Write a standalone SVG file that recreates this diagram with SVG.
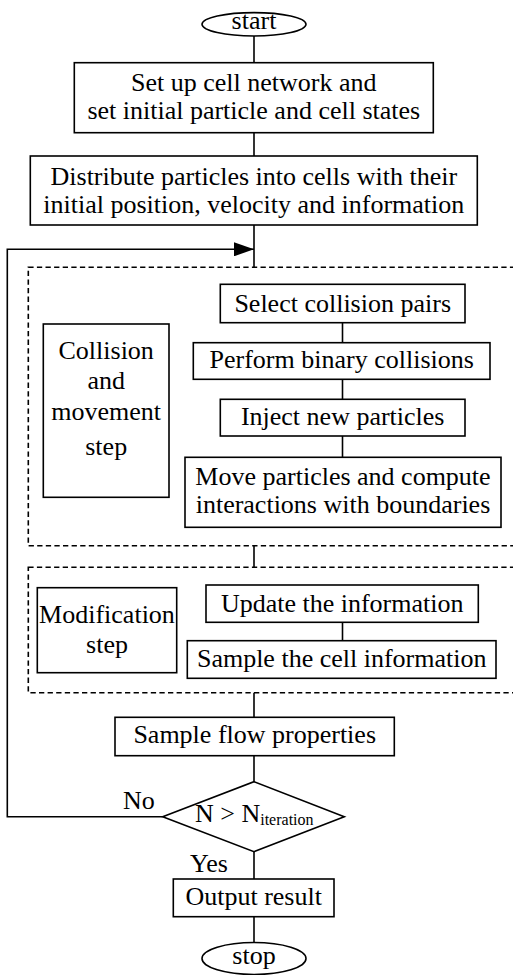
<svg xmlns="http://www.w3.org/2000/svg" width="513" height="975" viewBox="0 0 513 975" font-family="'Liberation Serif', 'Times New Roman', serif" font-size="26">
<style>
.b{fill:#fff;stroke:#000;stroke-width:1.6}
.d{fill:none;stroke:#000;stroke-width:1.6;stroke-dasharray:5.3 3.3}
.c{fill:none;stroke:#000;stroke-width:1.6}
.t{font-family:'Liberation Serif','Times New Roman',serif;font-size:26px;fill:#000}
.m{text-anchor:middle}
</style>
<defs>
<marker id="ah" markerWidth="20" markerHeight="14" refX="20" refY="7" orient="auto" markerUnits="userSpaceOnUse">
<path d="M0,0 L20,7 L0,14 Z" fill="#000"/>
</marker>
</defs>
<g id="connectors">
<line class="c" x1="254" y1="36" x2="254" y2="62.7"/>
<line class="c" x1="254" y1="132.7" x2="254" y2="156"/>
<line class="c" x1="254" y1="225" x2="254" y2="267.3"/>
<line class="c" x1="342.5" y1="322.7" x2="342.5" y2="342.7"/>
<line class="c" x1="342.5" y1="379.3" x2="342.5" y2="399.3"/>
<line class="c" x1="342.5" y1="436" x2="342.5" y2="457.3"/>
<line class="c" x1="254" y1="545.7" x2="254" y2="567.3"/>
<line class="c" x1="342.5" y1="622.3" x2="342.5" y2="640.7"/>
<line class="c" x1="254" y1="692.7" x2="254" y2="717.3"/>
<line class="c" x1="254" y1="755.7" x2="254" y2="781.7"/>
<line class="c" x1="254" y1="851.7" x2="254" y2="879"/>
<line class="c" x1="254" y1="916.7" x2="254" y2="942.3"/>
<polyline class="c" points="162.7,816.7 7.3,816.7 7.3,249.3 254,249.3" marker-end="url(#ah)"/>
</g>
<g id="group-collision">
<rect class="d" x="28.3" y="267.3" width="500" height="278.4"/>
</g>
<g id="group-modification">
<rect class="d" x="28.3" y="567.3" width="500" height="125.4"/>
</g>
<g id="start">
<ellipse class="b" cx="254" cy="24.3" rx="52" ry="11.7"/>
<text class="t m" x="254" y="28.5">start</text>
</g>
<g id="setup">
<rect class="b" x="74.3" y="62.7" width="359" height="70"/>
<text class="t m" x="253.8" y="90.7">Set up cell network and</text>
<text class="t m" x="253.8" y="119.3">set initial particle and cell states</text>
</g>
<g id="distribute">
<rect class="b" x="30.3" y="156" width="447" height="69"/>
<text class="t m" x="253.8" y="185">Distribute particles into cells with their</text>
<text class="t m" x="253.8" y="213">initial position, velocity and information</text>
</g>
<g id="collision-label">
<rect class="b" x="43.3" y="324" width="125.7" height="173.3"/>
<text class="t m" x="106.2" y="359">Collision</text>
<text class="t m" x="106.2" y="389.3">and</text>
<text class="t m" x="106.2" y="420">movement</text>
<text class="t m" x="106.2" y="455">step</text>
</g>
<g id="select">
<rect class="b" x="220.3" y="284.3" width="244.7" height="38.4"/>
<text class="t m" x="342.7" y="311.7">Select collision pairs</text>
</g>
<g id="perform">
<rect class="b" x="193.3" y="342.7" width="296.7" height="36.6"/>
<text class="t m" x="341.7" y="368.3">Perform binary collisions</text>
</g>
<g id="inject">
<rect class="b" x="220.3" y="399.3" width="244.7" height="36.7"/>
<text class="t m" x="342.7" y="425">Inject new particles</text>
</g>
<g id="move">
<rect class="b" x="185" y="457.3" width="316" height="70"/>
<text class="t m" x="343" y="485">Move particles and compute</text>
<text class="t m" x="343" y="513.3">interactions with boundaries</text>
</g>
<g id="modification-label">
<rect class="b" x="37.3" y="587.7" width="139.4" height="85"/>
<text class="t m" x="107" y="623.3">Modification</text>
<text class="t m" x="107" y="653.3">step</text>
</g>
<g id="update">
<rect class="b" x="206" y="585" width="272.3" height="37.3"/>
<text class="t m" x="342.2" y="611.7">Update the information</text>
</g>
<g id="sample-cell">
<rect class="b" x="187.3" y="640.7" width="308.7" height="37.6"/>
<text class="t m" x="341.7" y="666.7">Sample the cell information</text>
</g>
<g id="sample-flow">
<rect class="b" x="115" y="717.3" width="279.3" height="38.4"/>
<text class="t m" x="254.7" y="743.3">Sample flow properties</text>
</g>
<g id="decision">
<polygon class="b" points="254,781.7 344.3,816.7 254,851.7 162.7,816.7"/>
<text class="t" x="195" y="821.7">N &gt; N<tspan font-size="16" dy="3.3">iteration</tspan></text>
<text class="t" x="123" y="809">No</text>
<text class="t" x="190" y="871.7">Yes</text>
</g>
<g id="output">
<rect class="b" x="173.3" y="879" width="160.7" height="37.7"/>
<text class="t m" x="253.7" y="905">Output result</text>
</g>
<g id="stop">
<ellipse class="b" cx="254" cy="958.5" rx="52" ry="16"/>
<text class="t m" x="254" y="964">stop</text>
</g>
</svg>
